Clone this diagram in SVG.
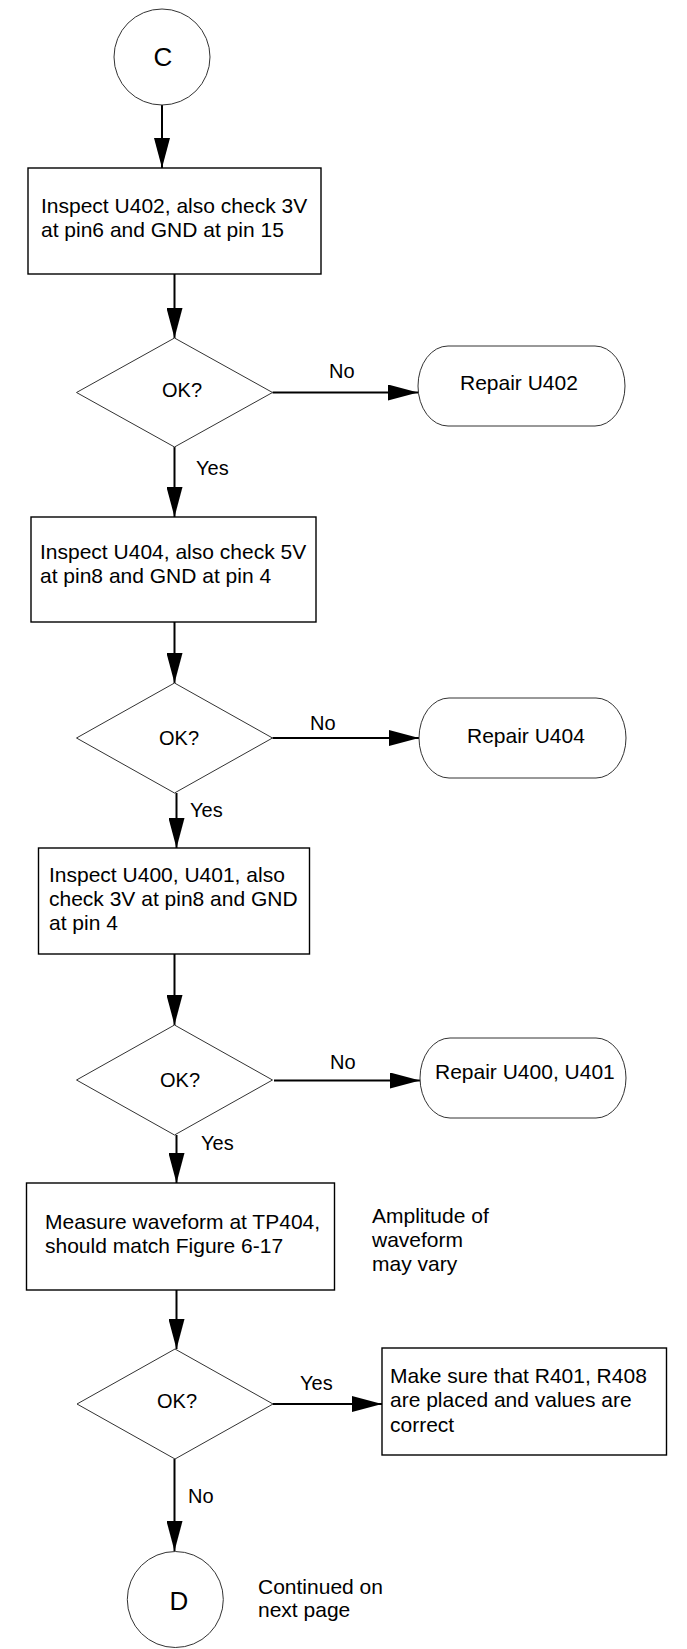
<svg xmlns="http://www.w3.org/2000/svg" width="687" height="1649" viewBox="0 0 687 1649">
<style>
text{font-family:"Liberation Sans",Arial,sans-serif;fill:#000}
.t{font-size:21px}
.l{font-size:20px}
.big{font-size:26px;text-anchor:middle}
.mid{text-anchor:middle}
.box{fill:#fff;stroke:#000;stroke-width:1.4}
.thin{fill:#fff;stroke:#333;stroke-width:1}
.c{stroke:#000;stroke-width:2;fill:none;marker-end:url(#ah)}
</style>
<defs>
<marker id="ah" markerUnits="userSpaceOnUse" markerWidth="30" markerHeight="16" refX="30" refY="8" orient="auto" viewBox="0 0 30 16">
<path d="M0,0 L30,8 L0,16 Z" fill="#000"/>
</marker>
</defs>
<rect width="687" height="1649" fill="#fff"/>
<g id="connectors">
<line class="c" x1="162" y1="105" x2="162" y2="168"/>
<line class="c" x1="174.5" y1="274" x2="174.5" y2="338"/>
<line class="c" x1="272.5" y1="392.5" x2="418" y2="392.5"/>
<line class="c" x1="174.5" y1="447" x2="174.5" y2="517"/>
<line class="c" x1="174.5" y1="622" x2="174.5" y2="683"/>
<line class="c" x1="272.5" y1="738" x2="419" y2="738"/>
<line class="c" x1="176.5" y1="793" x2="176.5" y2="848"/>
<line class="c" x1="174.5" y1="954" x2="174.5" y2="1025"/>
<line class="c" x1="274" y1="1080.5" x2="420" y2="1080.5"/>
<line class="c" x1="176.5" y1="1135" x2="176.5" y2="1183"/>
<line class="c" x1="176.5" y1="1290" x2="176.5" y2="1349"/>
<line class="c" x1="273" y1="1404" x2="382" y2="1404"/>
<line class="c" x1="174.5" y1="1459" x2="174.5" y2="1551"/>
<text class="l" x="329" y="378">No</text>
<text class="l" x="196" y="475">Yes</text>
<text class="l" x="310" y="730">No</text>
<text class="l" x="190" y="816.5">Yes</text>
<text class="l" x="330" y="1069">No</text>
<text class="l" x="201" y="1150">Yes</text>
<text class="l" x="300" y="1390">Yes</text>
<text class="l" x="188" y="1503">No</text>
</g>
<g id="startC">
<ellipse class="thin" cx="162" cy="57" rx="48" ry="48"/>
<text class="big" x="163" y="66">C</text>
</g>
<g id="inspectU402">
<rect class="box" x="28" y="168" width="293" height="106"/>
<text class="t" x="41" y="213">Inspect U402, also check 3V</text>
<text class="t" x="41" y="236.5">at pin6 and GND at pin 15</text>
</g>
<g id="ok1">
<polygon class="thin" points="174.5,338 272.5,392.5 174.5,447 76.5,392.5"/>
<text class="l mid" x="182" y="397">OK?</text>
</g>
<g id="repairU402">
<rect class="thin" x="418" y="346" width="207" height="80" rx="30" ry="40"/>
<text class="t" x="460" y="390">Repair U402</text>
</g>
<g id="inspectU404">
<rect class="box" x="31" y="517" width="285" height="105"/>
<text class="t" x="40" y="559">Inspect U404, also check 5V</text>
<text class="t" x="40" y="583">at pin8 and GND at pin 4</text>
</g>
<g id="ok2">
<polygon class="thin" points="174.5,683 272.5,738 174.5,793 76.5,738"/>
<text class="l mid" x="179" y="745">OK?</text>
</g>
<g id="repairU404">
<rect class="thin" x="419" y="698" width="207" height="80" rx="30" ry="40"/>
<text class="t" x="467" y="743">Repair U404</text>
</g>
<g id="inspectU400">
<rect class="box" x="38.5" y="848" width="271" height="106"/>
<text class="t" x="49" y="882">Inspect U400, U401, also</text>
<text class="t" x="49" y="906">check 3V at pin8 and GND</text>
<text class="t" x="49" y="930">at pin 4</text>
</g>
<g id="ok3">
<polygon class="thin" points="174.5,1025 272.5,1080 174.5,1135 76.5,1080"/>
<text class="l mid" x="180" y="1087">OK?</text>
</g>
<g id="repairU400">
<rect class="thin" x="420" y="1038" width="206" height="80" rx="30" ry="40"/>
<text class="t" x="435" y="1079">Repair U400, U401</text>
</g>
<g id="measure">
<rect class="box" x="26.5" y="1183" width="308" height="107"/>
<text class="t" x="45" y="1229">Measure waveform at TP404,</text>
<text class="t" x="45" y="1253">should match Figure 6-17</text>
</g>
<g id="note">
<text class="t" x="372" y="1223">Amplitude of</text>
<text class="t" x="372" y="1247">waveform</text>
<text class="t" x="372" y="1271">may vary</text>
</g>
<g id="ok4">
<polygon class="thin" points="175,1349 273,1404 175,1459 77,1404"/>
<text class="l mid" x="177" y="1408">OK?</text>
</g>
<g id="makeSure">
<rect class="box" x="382" y="1348" width="284.5" height="107"/>
<text class="t" x="390" y="1383">Make sure that R401, R408</text>
<text class="t" x="390" y="1407">are placed and values are</text>
<text class="t" x="390" y="1432">correct</text>
</g>
<g id="endD">
<ellipse class="thin" cx="175.3" cy="1599.5" rx="48" ry="48"/>
<text class="big" x="179" y="1610">D</text>
</g>
<g id="continued">
<text class="t" x="258" y="1593.5">Continued on</text>
<text class="t" x="258" y="1617">next page</text>
</g>
</svg>
